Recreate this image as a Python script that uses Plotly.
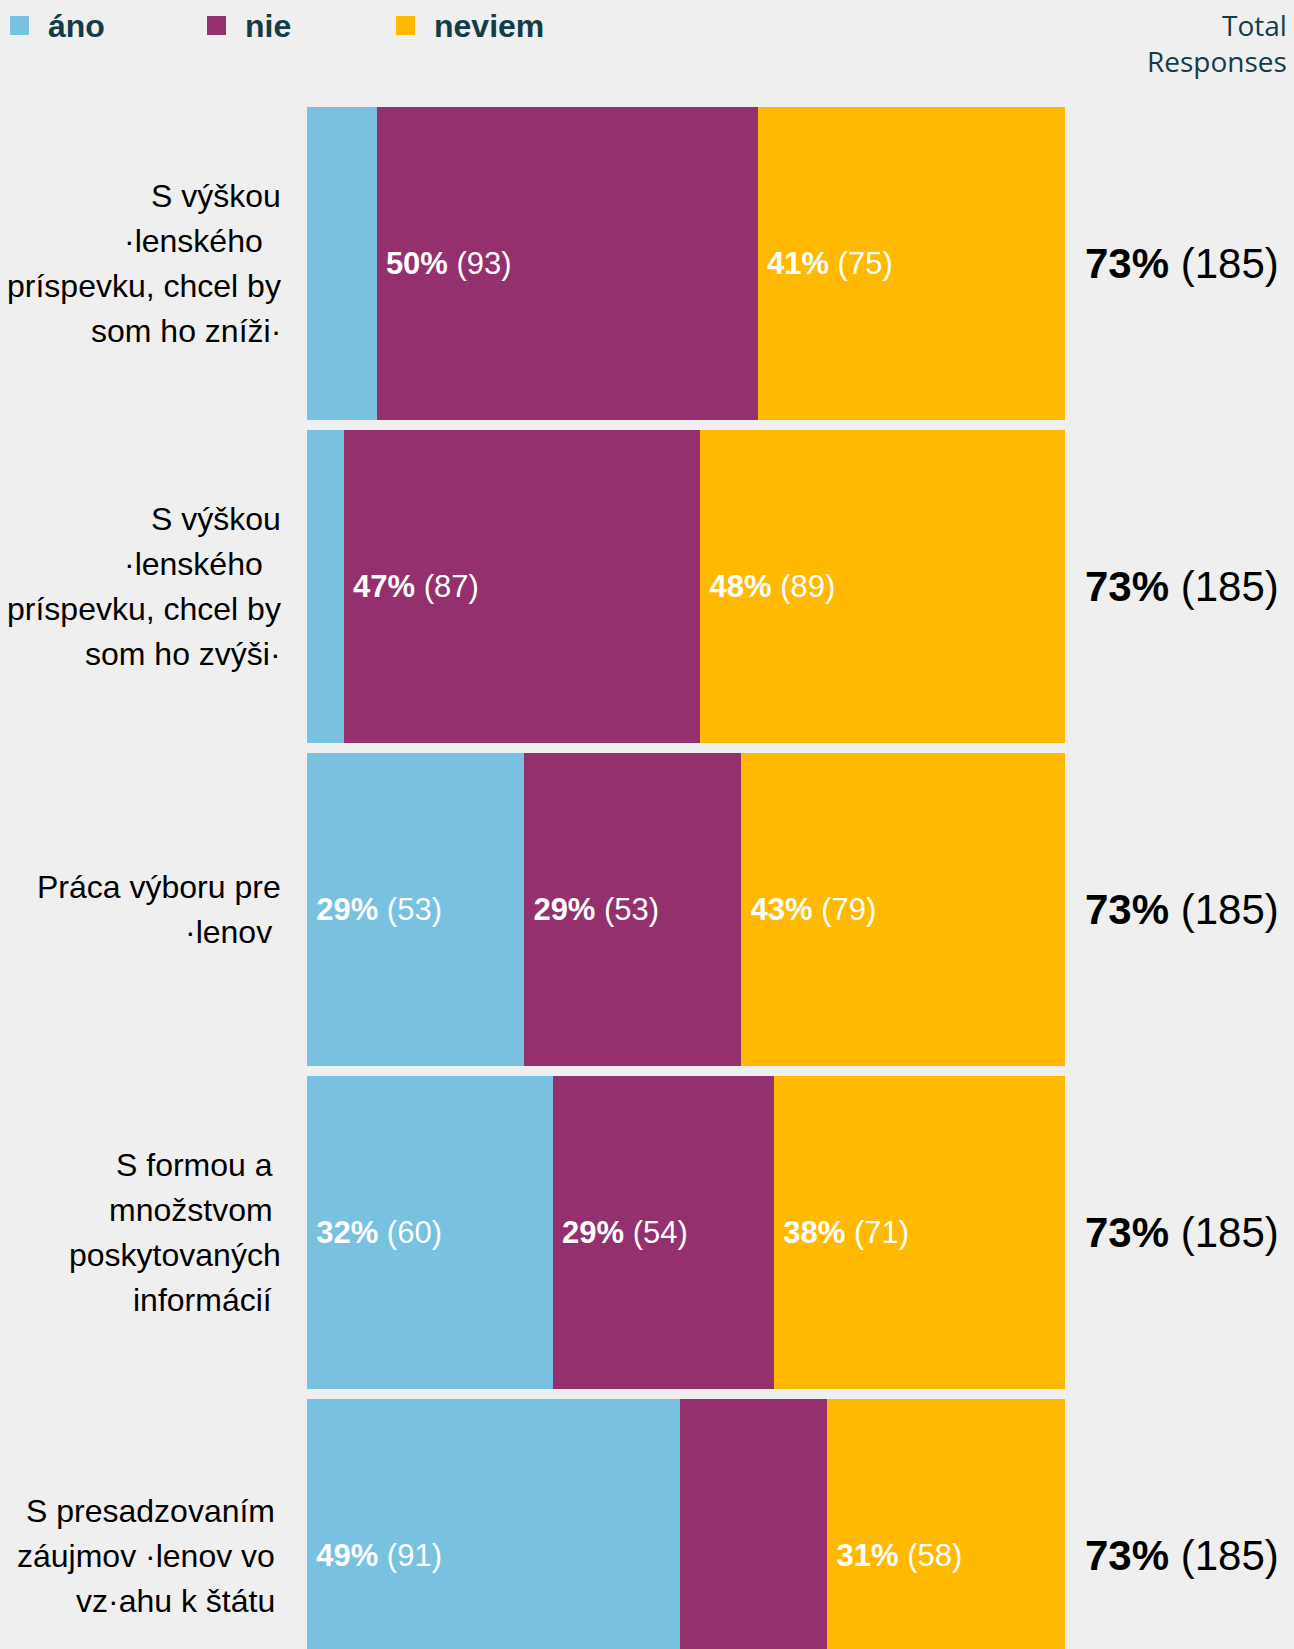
import plotly.graph_objects as go

# --- data ---
categories = [
    ["S výškou", "·lenského\u00a0\u00a0", "príspevku, chcel by", "som ho zníži·"],
    ["S výškou", "·lenského\u00a0\u00a0", "príspevku, chcel by", "som ho zvýši·"],
    ["Práca výboru pre", "·lenov\u00a0"],
    ["S formou a\u00a0", "množstvom\u00a0", "poskytovaných", "informácií\u00a0"],
    ["S presadzovaním", "záujmov ·lenov vo", "vz·ahu k štátu"],
]
series_names = ["áno", "nie", "neviem"]
ano = [17, 9, 53, 60, 91]
nie = [93, 87, 53, 54, 36]
neviem = [75, 89, 79, 71, 58]
total_counts = [185, 185, 185, 185, 185]
total_pct = [73, 73, 73, 73, 73]

colors = ["#78c1e0", "#93306d", "#ffb900"]
BG = "#efefef"
TEAL = "#143c47"

W, H = 1294, 1649
L, R, T, B = 307, 229, 102, 0
PW, PH = W - L - R, H - T - B


def px_x(p):
    return (p - L) / PW


def px_y(p):
    return 1 - (p - T) / PH


def seg_label(count, total):
    pct = round(count / total * 100)
    if pct < 20:
        return ""
    return f"\u2009<b>{pct}%</b> ({count})"


fig = go.Figure()
rows = list(range(len(categories)))
for name, vals, col in zip(series_names, [ano, nie, neviem], colors):
    fig.add_trace(go.Bar(
        y=rows,
        x=vals,
        orientation="h",
        name=name,
        marker=dict(color=col, line=dict(width=0)),
        width=0.97,
        text=[seg_label(v, t) for v, t in zip(vals, total_counts)],
        textposition="inside",
        insidetextanchor="start",
        textangle=0,
        insidetextfont=dict(family="Liberation Sans, Arial", size=31, color="white"),
        hoverinfo="skip",
        showlegend=False,
    ))

annotations = []
shapes = []

# category labels, one annotation per line for the wide line spacing
for i, lines in enumerate(categories):
    n = len(lines)
    for j, line in enumerate(lines):
        shift = -24 if i < 4 else -30
        annotations.append(dict(
            xref="paper", yref="y", x=0, y=i, xanchor="right", yanchor="middle",
            xshift=shift, yshift=-(j - (n - 1) / 2) * 45,
            text=line, showarrow=False,
            font=dict(family="Liberation Sans, Arial", size=32, color="black"),
        ))

# total responses column
for i, (pct, cnt) in enumerate(zip(total_pct, total_counts)):
    annotations.append(dict(
        xref="paper", yref="y", x=1, y=i, xanchor="left", yanchor="middle",
        xshift=18, text=f"<b>{pct}%</b> ({cnt})", showarrow=False,
        font=dict(family="Liberation Sans, Arial", size=42, color="black"),
    ))

annotations.append(dict(
    xref="paper", yref="paper", x=px_x(1289), y=px_y(4), xanchor="right", yanchor="top",
    text="Total<br>Responses", align="right", showarrow=False,
    font=dict(family="Open Sans", size=28, color=TEAL),
))

# legend drawn by hand
legend_x = [10, 207, 396]
for name, col, lx in zip(series_names, colors, legend_x):
    shapes.append(dict(
        type="rect", xref="paper", yref="paper",
        x0=px_x(lx), x1=px_x(lx + 19), y0=px_y(35), y1=px_y(16),
        fillcolor=col, line=dict(width=0),
    ))
    annotations.append(dict(
        xref="paper", yref="paper", x=px_x(lx + 36), y=px_y(26),
        xanchor="left", yanchor="middle", text=f"<b>{name}</b>", showarrow=False,
        font=dict(family="Liberation Sans, Arial", size=32, color=TEAL),
    ))

fig.update_layout(
    width=W, height=H,
    barmode="stack",
    paper_bgcolor=BG, plot_bgcolor=BG,
    margin=dict(l=L, r=R, t=T, b=B, pad=0),
    xaxis=dict(range=[0, 185], visible=False, fixedrange=True),
    yaxis=dict(range=[4.289, -0.5], visible=False, fixedrange=True),
    annotations=annotations,
    shapes=shapes,
    uniformtext=dict(mode=False),
)

fig.write_html(
    "out.html",
    config={"displayModeBar": False},
    post_script="document.body.style.margin='0';document.body.style.overflow='hidden';",
)
